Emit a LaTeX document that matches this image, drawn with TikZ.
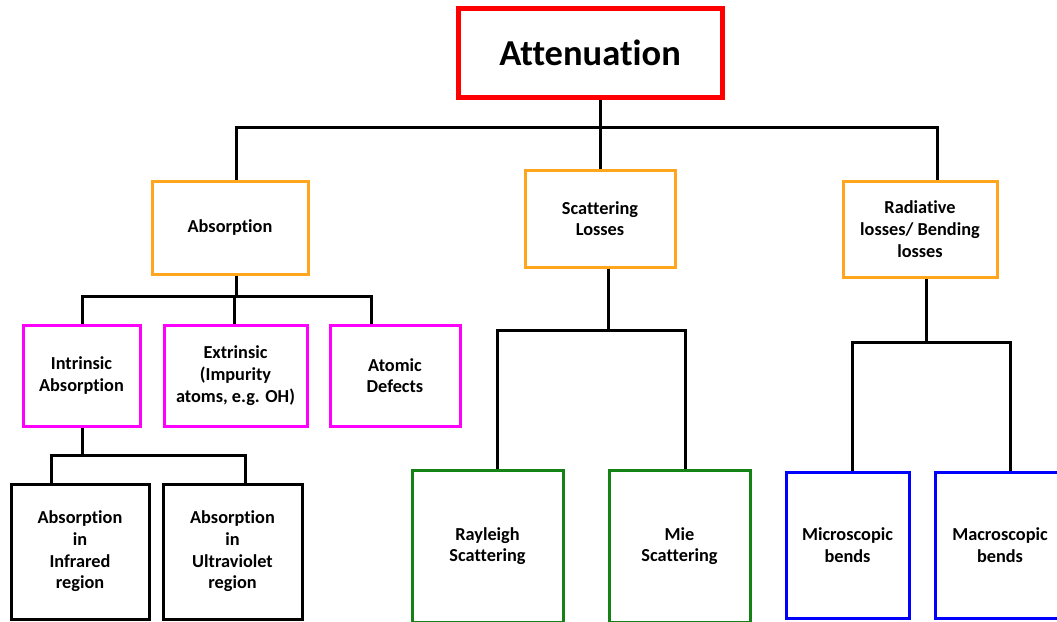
\documentclass[tikz,border=0pt]{standalone}
\usepackage{fontspec}
\setmainfont[RawFeature={-liga}]{Carlito}
\definecolor{cred}{RGB}{255,0,0}
\definecolor{corange}{RGB}{255,165,30}
\definecolor{cpink}{RGB}{255,0,255}
\definecolor{cgreen}{RGB}{20,130,20}
\definecolor{cblue}{RGB}{0,0,255}
\tikzset{
  box/.style={rectangle, draw, line width=3pt, align=center, inner sep=2pt,
    font=\bfseries\fontsize{18.3}{21.7}\selectfont},
  conn/.style={draw=black, line width=3pt, line join=miter},
}
\begin{document}
\begin{tikzpicture}[x=1pt,y=-1pt]
\clip (0,0) rectangle (1057,621);
\fill[white] (0,0) rectangle (1057,621);
% nodes
\node[box, draw=cred, line width=5pt, minimum width=264pt, minimum height=89pt,
  font=\bfseries\fontsize{36.5}{40}\selectfont] (att) at (590,52.5) {Attenuation};
\node[box, draw=corange, minimum width=156pt, minimum height=93pt] (abs) at (230,227.5) {Absorption};
\node[box, draw=corange, minimum width=150pt, minimum height=97pt] (scat) at (600,218.5) {Scattering\\Losses};
\node[box, draw=corange, minimum width=154pt, minimum height=96pt] (rad) at (920,229) {Radiative\\losses/ Bending\\losses};
\node[box, draw=cpink, minimum width=117pt, minimum height=101pt] (intr) at (81.5,375.5) {Intrinsic\\Absorption};
\node[box, draw=cpink, minimum width=143pt, minimum height=101pt] (extr) at (235.5,375.5) {Extrinsic\\(Impurity\\atoms, e.g. OH)};
\node[box, draw=cpink, minimum width=130pt, minimum height=101pt] (atom) at (395,375.5) {Atomic\\Defects};
\node[box, draw=black, minimum width=138pt, minimum height=135pt] (ir) at (80,551.5) {Absorption\\in\\Infrared\\region};
\node[box, draw=black, minimum width=139pt, minimum height=135pt] (uv) at (232.5,551.5) {Absorption\\in\\Ultraviolet\\region};
\node[box, draw=cgreen, minimum width=151pt, minimum height=152pt] (ray) at (487.5,546) {Rayleigh\\Scattering};
\node[box, draw=cgreen, minimum width=141pt, minimum height=152pt] (mie) at (679.5,546) {Mie\\Scattering};
\node[box, draw=cblue, minimum width=123pt, minimum height=146pt] (micro) at (847.5,545) {Microscopic\\bends};
\node[box, draw=cblue, minimum width=130pt, minimum height=146pt] (macro) at (1000,545) {Macroscopic\\bends};
% junctions
\coordinate (t) at (600,127);
\coordinate (tl) at (236,127);
\coordinate (tr) at (937,127);
\coordinate (a) at (236,296);
\coordinate (al) at (82,296);
\coordinate (am) at (234,296);
\coordinate (ar) at (371,296);
\coordinate (i) at (82,455);
\coordinate (il) at (51,455);
\coordinate (ir2) at (245,455);
\coordinate (s) at (608,330);
\coordinate (sl) at (497,330);
\coordinate (sr) at (685,330);
\coordinate (r) at (926,342);
\coordinate (rl) at (852,342);
\coordinate (rr) at (1010,342);
% connectors
\draw[conn] (t |- att.south) -- (t);
\draw[conn] (tl |- abs.north) -- (tl) -- (tr) -- (tr |- rad.north);
\draw[conn] (t) -- (t |- scat.north);
\draw[conn] (a |- abs.south) -- (a);
\draw[conn] (al |- intr.north) -- (al) -- (ar) -- (ar |- atom.north);
\draw[conn] (am) -- (am |- extr.north);
\draw[conn] (i |- intr.south) -- (i);
\draw[conn] (il |- ir.north) -- (il) -- (ir2) -- (ir2 |- uv.north);
\draw[conn] (s |- scat.south) -- (s);
\draw[conn] (sl |- ray.north) -- (sl) -- (sr) -- (sr |- mie.north);
\draw[conn] (r |- rad.south) -- (r);
\draw[conn] (rl |- micro.north) -- (rl) -- (rr) -- (rr |- macro.north);
\end{tikzpicture}
\end{document}
